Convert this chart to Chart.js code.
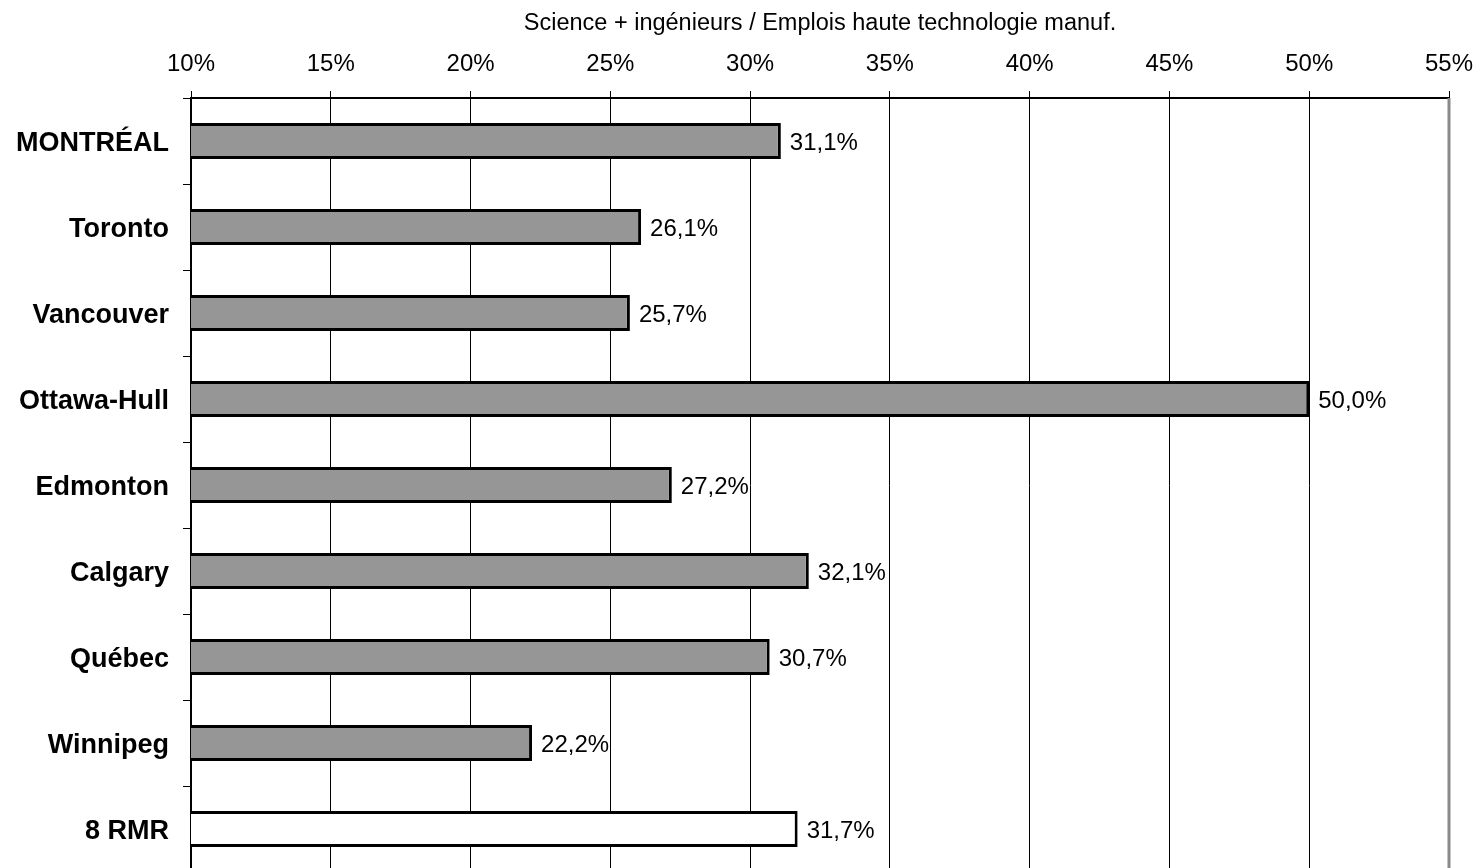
<!DOCTYPE html>
<html lang="fr">
<head>
<meta charset="utf-8">
<title>Science + ingénieurs / Emplois haute technologie manuf.</title>
<script src="https://cdn.jsdelivr.net/npm/chart.js@4/dist/chart.umd.min.js"></script>
<style>
    html, body { margin: 0; padding: 0; background: #fff; overflow: hidden; }
    #wrap { position: relative; width: 1481px; height: 874px; }
</style>
</head>
<body>
<div id="wrap"><canvas id="ratioChart"></canvas></div>
<script>
// Part des scientifiques et ingénieurs dans les emplois manufacturiers de haute technologie
const cities = ['MONTRÉAL', 'Toronto', 'Vancouver', 'Ottawa-Hull', 'Edmonton', 'Calgary', 'Québec', 'Winnipeg', '8 RMR'];
const ratios = [31.1, 26.1, 25.7, 50.0, 27.2, 32.1, 30.7, 22.2, 31.7];
const barFills = ['#969696', '#969696', '#969696', '#969696', '#969696', '#969696', '#969696', '#969696', '#ffffff'];
const axisMin = 10;
const axisMax = 55;
const axisStep = 5;
const axisTitle = 'Science + ingénieurs / Emplois haute technologie manuf.';

const fontFamily = "'Liberation Sans', Arial, Helvetica, sans-serif";

document.addEventListener('DOMContentLoaded', function() {
    // Value labels written to the right of each bar
    const valueLabels = {
        id: 'valueLabels',
        afterDatasetsDraw(chart) {
            const ctx = chart.ctx;
            const meta = chart.getDatasetMeta(0);
            ctx.save();
            ctx.font = '24px ' + fontFamily;
            ctx.fillStyle = '#000';
            ctx.textAlign = 'left';
            ctx.textBaseline = 'middle';
            meta.data.forEach((bar, i) => {
                const text = ratios[i].toFixed(1).replace('.', ',') + '%';
                ctx.fillText(text, bar.x + 9, bar.y + 2);
            });
            ctx.restore();
        }
    };

    // Grey frame on the right edge of the plot area
    const plotFrame = {
        id: 'plotFrame',
        afterDraw(chart) {
            const { ctx, chartArea } = chart;
            ctx.save();
            ctx.strokeStyle = '#8a8a8a';
            ctx.lineWidth = 3;
            ctx.beginPath();
            ctx.moveTo(chartArea.right, chartArea.top);
            ctx.lineTo(chartArea.right, chartArea.bottom);
            ctx.stroke();
            ctx.restore();
        }
    };

    const ctx = document.getElementById('ratioChart').getContext('2d');
    new Chart(ctx, {
        type: 'bar',
        data: {
            labels: cities,
            datasets: [{
                data: ratios,
                backgroundColor: barFills,
                borderColor: '#000',
                borderWidth: 3,
                borderSkipped: false,
                barPercentage: 0.42,
                categoryPercentage: 1
            }]
        },
        options: {
            indexAxis: 'y',
            responsive: true,
            maintainAspectRatio: false,
            animation: false,
            layout: { padding: { top: 0, left: 0, right: 32, bottom: 2 } },
            plugins: {
                legend: { display: false },
                tooltip: { enabled: false }
            },
            scales: {
                x: {
                    position: 'top',
                    min: axisMin,
                    max: axisMax,
                    ticks: {
                        stepSize: axisStep,
                        padding: 12,
                        color: '#000',
                        font: { family: fontFamily, size: 24 },
                        callback: v => v + '%'
                    },
                    grid: { color: '#000', lineWidth: 1, tickLength: 7 },
                    border: { color: '#000', width: 2 },
                    title: {
                        display: true,
                        text: axisTitle,
                        color: '#000',
                        font: { family: fontFamily, size: 23.5 },
                        padding: { top: 9, bottom: 0 }
                    },
                    afterFit(scale) {
                        scale.height = 98;
                        scale.paddingLeft = 0;
                        scale.paddingRight = 0;
                    }
                },
                y: {
                    ticks: {
                        padding: 14,
                        labelOffset: 3,
                        color: '#000',
                        font: { family: fontFamily, size: 27, weight: 'bold' }
                    },
                    grid: {
                        drawOnChartArea: false,
                        color: '#000',
                        lineWidth: 1,
                        tickLength: 8
                    },
                    border: { color: '#000', width: 2 },
                    afterFit(scale) {
                        scale.width = 191;
                        scale.paddingTop = 0;
                        scale.paddingBottom = 0;
                    }
                }
            }
        },
        plugins: [valueLabels, plotFrame]
    });
});
</script>
</body>
</html>
